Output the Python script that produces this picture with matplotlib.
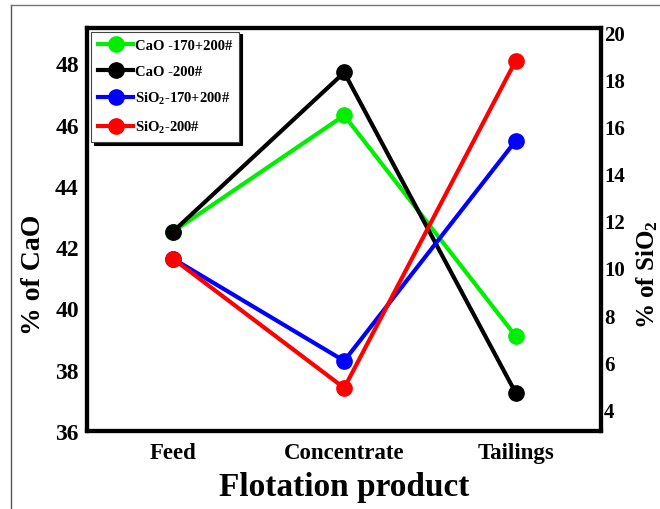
import matplotlib
matplotlib.use("Agg")
import matplotlib.pyplot as plt
from matplotlib.lines import Line2D

plt.rcParams['font.family'] = ['Liberation Serif', 'DejaVu Serif']
plt.rcParams['font.weight'] = 'bold'
plt.rcParams['mathtext.fontset'] = 'custom'
plt.rcParams['mathtext.rm'] = 'Liberation Serif:bold'
plt.rcParams['mathtext.it'] = 'Liberation Serif:bold'
plt.rcParams['mathtext.bf'] = 'Liberation Serif:bold'

products = ["Feed", "Concentrate", "Tailings"]
cao_170_200 = [42.5, 46.3, 39.1]
cao_200 = [42.5, 47.7, 37.25]
sio2_170_200 = [10.4, 6.05, 15.4]
sio2_200 = [10.4, 4.9, 18.8]

x = list(range(len(products)))

fig = plt.figure(figsize=(6.6, 5.1), dpi=100)
ax = fig.add_axes([0.132, 0.153, 0.779, 0.790])
ax2 = ax.twinx()

lw = 3
ms = 11
ax.plot(x, cao_170_200, color='#00ee00', lw=lw, marker='o', ms=ms, label='CaO -170+200#', zorder=3)
ax.plot(x, cao_200, color='black', lw=lw, marker='o', ms=ms, label='CaO -200#', zorder=3)
ax2.plot(x, sio2_170_200, color='#0000ff', lw=lw, marker='o', ms=ms, label='SiO$_2$-170+200#')
ax2.plot(x, sio2_200, color='#ff0000', lw=lw, marker='o', ms=ms, label='SiO$_2$-200#')

ax.set_xlim(-0.5, 2.5)
ax.set_ylim(36, 49.15)
ax2.set_ylim(3.07, 20.2)
ax.set_yticks([36, 38, 40, 42, 44, 46, 48])
ax2.set_yticks([4, 6, 8, 10, 12, 14, 16, 18, 20])
ax.set_xticks(x)
ax.set_xticklabels(products)

ax.tick_params(axis='y', length=0, labelsize=17, pad=6)
ax.tick_params(axis='x', length=0, labelsize=16.5, pad=8)
ax2.tick_params(axis='y', length=0, labelsize=15, pad=2)

for a in (ax, ax2):
    for s in a.spines.values():
        s.set_linewidth(3)

ax.set_ylabel('% of CaO', fontsize=20, fontweight='bold')
ax2.set_ylabel('% of SiO$_2$', fontsize=18, fontweight='bold')
ax.yaxis.set_label_coords(-0.08, 0.39)
ax2.yaxis.set_label_coords(1.064, 0.39)
ax.set_xlabel('Flotation product', fontsize=24, fontweight='bold', labelpad=6)

h1, l1 = ax.get_legend_handles_labels()
h2, l2 = ax2.get_legend_handles_labels()
leg = ax2.legend(h1 + h2, l1 + l2, loc='upper left', bbox_to_anchor=(0.0, 1.0),
                 fontsize=10.5, frameon=True, fancybox=False, edgecolor='#444444',
                 handlelength=2.4, handletextpad=0.1, labelspacing=0.85,
                 borderpad=0.5, borderaxespad=0.25,
                 shadow={'color': 'black', 'alpha': 1})
leg.get_frame().set_linewidth(0.8)

# thin frame of the screenshot
fig.add_artist(Line2D([11/660, 11/660], [0, 1 - 6/510], color='#555555', lw=1))
fig.add_artist(Line2D([11/660, 1], [1 - 6/510, 1 - 6/510], color='#777777', lw=1))

fig.savefig('out.png', dpi=100)
